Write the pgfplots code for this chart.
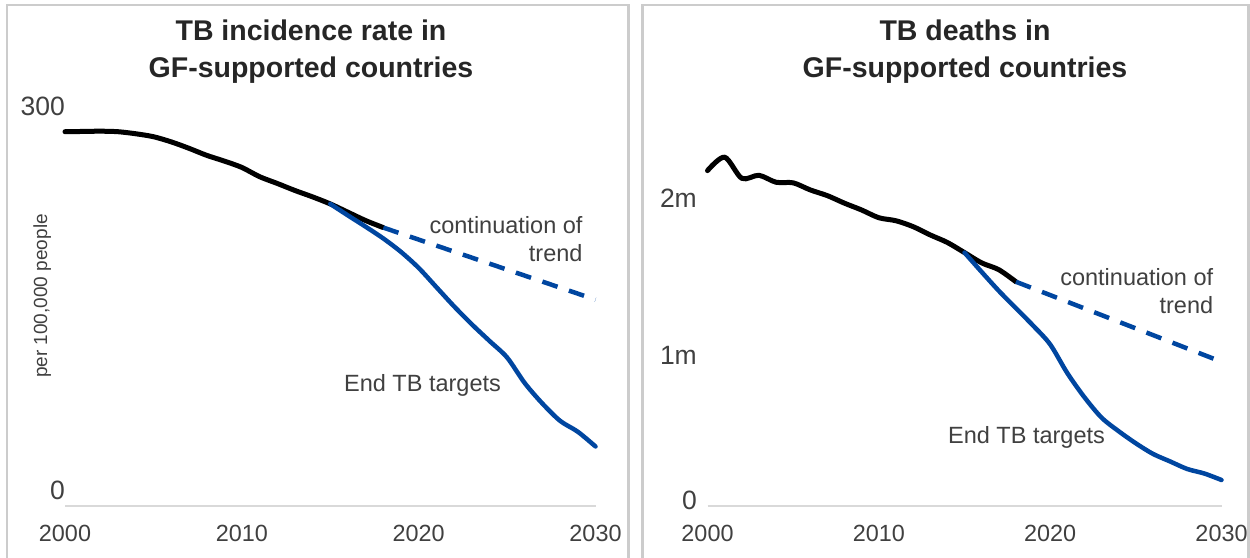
\documentclass[border=0pt]{standalone}
\usepackage{fontspec}
\setmainfont{Liberation Sans}
\usepackage{pgfplots}
\pgfplotsset{compat=1.18}
\definecolor{tbblue}{RGB}{0,70,160}
\definecolor{txt}{RGB}{64,64,64}
\definecolor{ttl}{RGB}{38,38,38}
\definecolor{axgray}{RGB}{217,217,217}
\definecolor{bord}{RGB}{204,204,204}
\pgfplotsset{
  tbaxis/.style={
    scale only axis, enlargelimits=false, clip=false,
    xmin=2000, xmax=2030, ymin=0,
    axis x line*=bottom, axis y line*=left,
    x axis line style={draw=axgray, line width=2bp},
    y axis line style={draw=none},
    xtick={2000,2010,2020,2030}, xticklabels={2000,2010,2020,2030},
    major tick length=0pt,
    xticklabel style={anchor=base, yshift=-35.7bp, inner sep=0pt,
      font=\fontsize{23.4bp}{28bp}\selectfont, text=txt},
    yticklabel style={anchor=base east, inner sep=0pt,
      font=\fontsize{26.5bp}{30bp}\selectfont, text=txt},
  },
  blk/.style={black, line width=5bp, smooth, line join=round, line cap=round},
  blu/.style={tbblue, line width=4.5bp, smooth, line join=round, line cap=round},
  dsh/.style={tbblue, line width=4.5bp, dash pattern=on 16bp off 12bp},
}
\begin{document}
\begin{tikzpicture}[x=1bp,y=1bp]
\useasboundingbox (0,0) rectangle (1250,558);
\clip (0,0) rectangle (1250,558);
\fill[white] (0,0) rectangle (1250,558);
\draw[bord, line width=2.5bp] (7,-10) -- (7,553) -- (628.3,553) -- (628.3,-10);
\draw[bord, line width=2.5bp] (642.7,-10) -- (642.7,553) -- (1248.5,553) -- (1248.5,-10);

% titles
\node[anchor=base, text=ttl, font=\fontsize{28.5bp}{34bp}\selectfont\bfseries] at (311,517.3) {TB incidence rate in};
\node[anchor=base, text=ttl, font=\fontsize{28.5bp}{34bp}\selectfont\bfseries] at (311,480.7) {GF-supported countries};
\node[anchor=base, text=ttl, font=\fontsize{28.5bp}{34bp}\selectfont\bfseries] at (965,517.3) {TB deaths in};
\node[anchor=base, text=ttl, font=\fontsize{28.5bp}{34bp}\selectfont\bfseries] at (965,480.7) {GF-supported countries};

% left panel
\begin{axis}[tbaxis, at={(65bp,52bp)}, anchor=south west,
  width=530.5bp, height=396.8bp, ymax=310,
  ytick={0,300}, yticklabels={0,300},
  yticklabel style={yshift=6.5bp}]
\addplot[blk] coordinates {
(2000,292.4) (2001,292.6) (2002,292.8) (2003,292.4) (2004,290.8) (2005,288.5)
(2006,284.5) (2007,279.5) (2008,274) (2009,269.5) (2010,264.5) (2011,257.3)
(2012,252) (2013,246.5) (2014,241.5) (2015,236) (2016,229.5) (2017,223) (2018,217.5)};
\addplot[blu] coordinates {
(2015,236) (2016,227) (2017,218.2) (2018,209) (2019,198.5) (2020,186)
(2021,171) (2022,156) (2023,142) (2024,129) (2025,116) (2026,96)
(2027,80) (2028,66.5) (2029,58) (2030,46.5)};
\addplot[dsh] coordinates {(2018,217.5) (2030,161.2)};
\end{axis}

% right panel
\begin{axis}[tbaxis, at={(707.5bp,52bp)}, anchor=south west,
  width=514bp, height=362.4bp, ymax=2.4,
  ytick={0,1,2}, yticklabels={0,\raisebox{-6bp}{1m},2m},
  yticklabel style={xshift=-10.5bp, yshift=-4bp}]
\addplot[blk] coordinates {
(2000,2.221) (2001,2.31) (2002,2.17) (2003,2.19) (2004,2.144) (2005,2.140)
(2006,2.093) (2007,2.055) (2008,2.005) (2009,1.96) (2010,1.909) (2011,1.889)
(2012,1.85) (2013,1.795) (2014,1.745) (2015,1.678) (2016,1.61) (2017,1.565) (2018,1.485)};
\addplot[blu] coordinates {
(2015,1.678) (2016,1.55) (2017,1.425) (2018,1.31) (2019,1.195) (2020,1.07)
(2021,0.88) (2022,0.72) (2023,0.585) (2024,0.495) (2025,0.415) (2026,0.345)
(2027,0.295) (2028,0.245) (2029,0.215) (2030,0.172)};
\addplot[dsh] coordinates {(2018,1.485) (2030,0.955)};
\end{axis}

% annotations
\node[anchor=base east, text=txt, font=\fontsize{23.5bp}{28bp}\selectfont] at (586,324.7) {continuation of};
\node[anchor=base east, text=txt, font=\fontsize{23.5bp}{28bp}\selectfont] at (586,296.3) {trend};
\node[anchor=base, text=txt, font=\fontsize{23.5bp}{28bp}\selectfont] at (422.5,166.3) {End TB targets};
\node[anchor=base east, text=txt, font=\fontsize{23.5bp}{28bp}\selectfont] at (1216.7,272) {continuation of};
\node[anchor=base east, text=txt, font=\fontsize{23.5bp}{28bp}\selectfont] at (1216.7,244) {trend};
\node[anchor=base, text=txt, font=\fontsize{23.5bp}{28bp}\selectfont] at (1026.5,114) {End TB targets};
\node[rotate=90, text=txt, font=\fontsize{19bp}{22bp}\selectfont] at (42.3,262) {per 100,000 people};
\end{tikzpicture}
\end{document}
